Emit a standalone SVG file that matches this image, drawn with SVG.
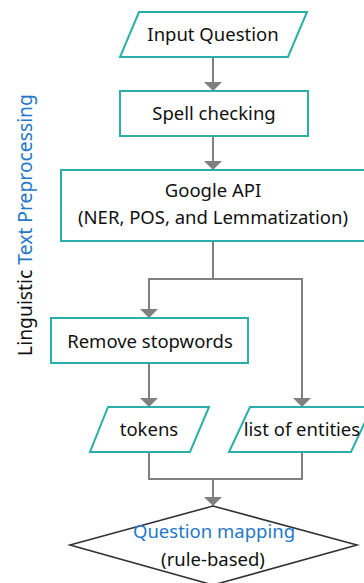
<svg xmlns="http://www.w3.org/2000/svg" width="364" height="583" viewBox="0 0 364 583">
  <style>
    .box { fill: #ffffff; stroke: #2aaeaa; stroke-width: 2; }
    .dia { fill: #ffffff; stroke: #333333; stroke-width: 1.6; }
    .lbl { font-family: "Noto Sans", "Open Sans", sans-serif; font-size: 18.5px; fill: #111111; text-anchor: middle; }
    .side { font-size: 19.3px; }
    .blue { fill: #1f78c8; }
    .wire { fill: none; stroke: #808080; stroke-width: 2; }
    .tip { fill: #808080; }
  </style>
  <rect width="364" height="583" fill="#ffffff"/>

  <!-- side caption -->
  <text class="lbl side" transform="translate(32,225) rotate(-90)">Linguistic <tspan class="blue">Text Preprocessing</tspan></text>

  <g id="connectors">
    <path class="wire" d="M213,57 V82"/>
    <path class="tip" d="M204,82 L222,82 L213,91 Z"/>
    <path class="wire" d="M213,136 V161"/>
    <path class="tip" d="M204,161 L222,161 L213,170 Z"/>
    <path class="wire" d="M213,241 V279 H149 V309"/>
    <path class="tip" d="M140,309 L158,309 L149,318 Z"/>
    <path class="wire" d="M213,279 H302 V398"/>
    <path class="tip" d="M293,398 L311,398 L302,407 Z"/>
    <path class="wire" d="M149,363 V398"/>
    <path class="tip" d="M140,398 L158,398 L149,407 Z"/>
    <path class="wire" d="M149,452 V479 H302 V452"/>
    <path class="wire" d="M213,479 V497"/>
    <path class="tip" d="M204,497 L222,497 L213,506 Z"/>
  </g>

  <g id="input-question">
    <polygon class="box" points="139,12 307,12 288,57 120,57"/>
    <text class="lbl" x="213" y="41">Input Question</text>
  </g>

  <g id="spell-checking">
    <rect class="box" x="120" y="91" width="188" height="45"/>
    <text class="lbl" x="214" y="120">Spell checking</text>
  </g>

  <g id="google-api">
    <rect class="box" x="61" y="170" width="304" height="71"/>
    <text class="lbl" x="213" y="197">Google API</text>
    <text class="lbl" x="213" y="224">(NER, POS, and Lemmatization)</text>
  </g>

  <g id="remove-stopwords">
    <rect class="box" x="51" y="318" width="197" height="45"/>
    <text class="lbl" x="150" y="348">Remove stopwords</text>
  </g>

  <g id="tokens">
    <polygon class="box" points="108,407 209,407 190,452 90,452"/>
    <text class="lbl" x="149" y="436">tokens</text>
  </g>

  <g id="list-of-entities">
    <polygon class="box" points="250,407 372,407 351,452 229,452"/>
    <text class="lbl" x="302" y="436">list of entities</text>
  </g>

  <g id="question-mapping">
    <polygon class="dia" points="213,506 357,545 213,585 70,545"/>
    <text class="lbl blue" x="214" y="538">Question mapping</text>
    <text class="lbl" x="213" y="566">(rule-based)</text>
  </g>
</svg>
